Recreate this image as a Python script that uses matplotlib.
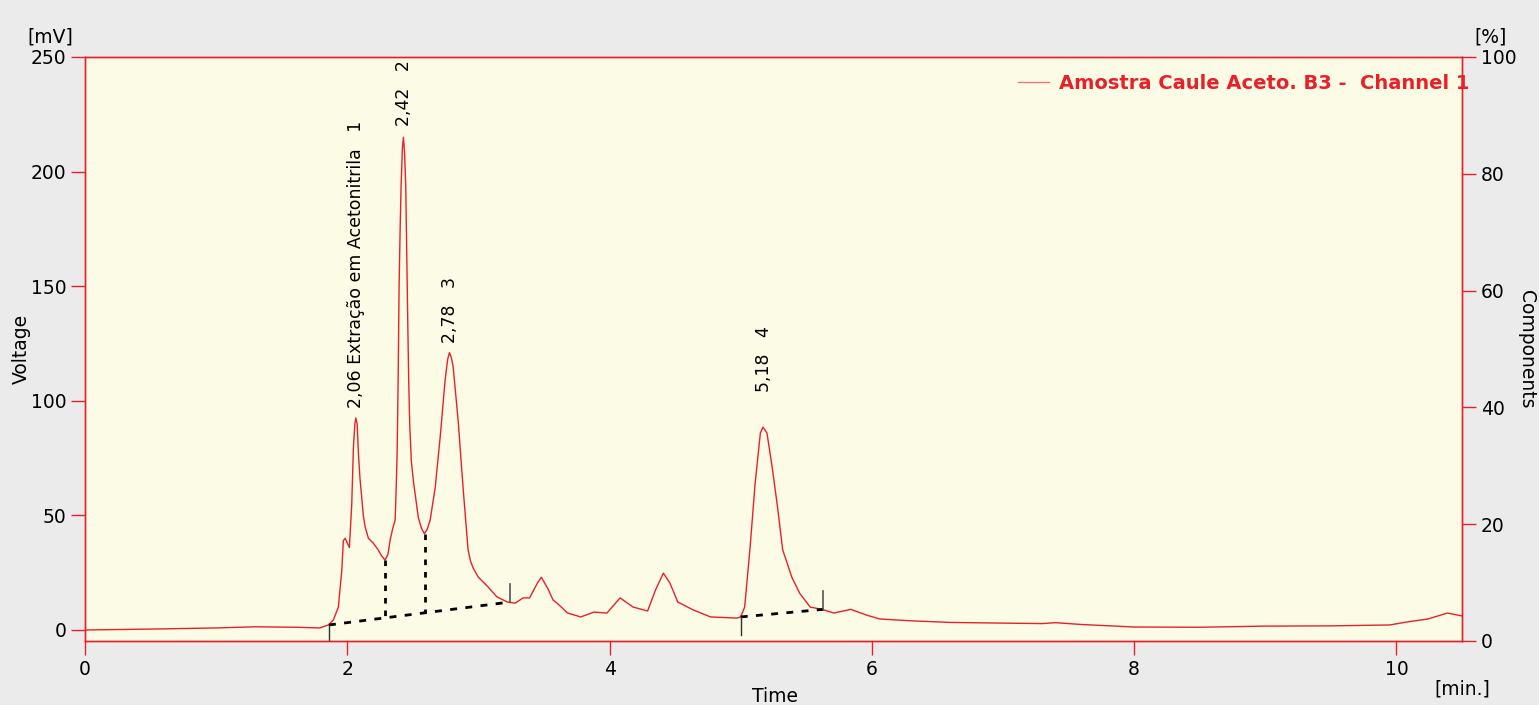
import matplotlib
matplotlib.use('Agg')
import matplotlib.pyplot as plt

# chromatogram trace (time in min, signal in mV)
time_min = [0.0, 0.5, 1.0, 1.3, 1.6, 1.79, 1.856, 1.894, 1.932, 1.958, 1.97, 1.983,
            2.0, 2.016, 2.034, 2.047, 2.058, 2.065, 2.075, 2.085, 2.097, 2.11, 2.122,
            2.136, 2.161, 2.197, 2.235, 2.26, 2.288, 2.31, 2.326, 2.345, 2.365, 2.372,
            2.38, 2.388, 2.395, 2.403, 2.41, 2.42, 2.428, 2.437, 2.446, 2.454, 2.461,
            2.468, 2.476, 2.488, 2.504, 2.542, 2.565, 2.588, 2.61, 2.632, 2.67, 2.708,
            2.746, 2.765, 2.779, 2.793, 2.807, 2.845, 2.883, 2.921, 2.94, 2.96, 3.0,
            3.07, 3.14, 3.22, 3.28, 3.34, 3.39, 3.45, 3.48, 3.53, 3.57, 3.6, 3.68,
            3.78, 3.88, 3.98, 4.08, 4.18, 4.29, 4.35, 4.41, 4.46, 4.52, 4.64, 4.77,
            4.97, 5.0, 5.03, 5.07, 5.11, 5.15, 5.17, 5.2, 5.24, 5.28, 5.32, 5.39,
            5.45, 5.53, 5.62, 5.71, 5.84, 5.96, 6.06, 6.3, 6.6, 7.0, 7.3, 7.4, 7.6,
            8.0, 8.5, 9.0, 9.5, 9.95, 10.08, 10.24, 10.39, 10.5]
signal_mv = [0.0, 0.4, 0.9, 1.4, 1.2, 0.9, 2.2, 4.4, 10.0, 26.0, 39.0, 40.0,
             38.0, 36.0, 55.0, 80.0, 90.0, 92.5, 90.0, 77.0, 66.0, 58.0, 50.0,
             45.0, 40.0, 38.0, 35.0, 32.5, 30.5, 33.0, 39.0, 44.0, 48.0, 60.0,
             77.0, 110.0, 150.0, 175.0, 193.0, 210.0, 215.0, 208.0, 193.0, 162.0, 135.0,
             110.0, 90.0, 74.0, 65.0, 49.0, 44.5, 42.0, 44.0, 48.0, 62.0, 84.0,
             109.0, 118.0, 121.0, 119.0, 115.0, 91.6, 62.0, 35.0, 30.0, 27.0, 23.0,
             19.0, 14.5, 12.2, 11.7, 14.0, 14.0, 20.5, 23.0, 18.0, 13.0, 11.7, 7.4,
             5.7, 7.8, 7.4, 14.0, 10.0, 8.3, 17.4, 24.8, 20.5, 12.2, 8.7, 5.7,
             5.2, 5.7, 10.0, 35.0, 64.0, 86.0, 88.5, 86.0, 71.0, 54.0, 35.0, 23.0,
             16.0, 10.0, 9.0, 7.4, 9.0, 6.5, 4.8, 4.0, 3.3, 3.0, 2.8, 3.2, 2.4,
             1.3, 1.2, 1.7, 1.8, 2.2, 3.5, 4.8, 7.4, 6.1]

# peak annotations
peak_labels = ['2,06 Extração em Acetonitrila   1', '2,42   2', '2,78   3', '5,18   4']
peak_label_x = [2.067, 2.433, 2.784, 5.18]
peak_label_y = [96.8, 220.0, 125.0, 104.0]

# integration baselines (start/end time and level)
base_t0 = [1.86, 5.0]
base_y0 = [2.2, 5.7]
base_t1 = [3.24, 5.63]
base_y1 = [12.2, 9.0]
# drop lines between peaks 1/2 and 2/3
drop_t = [2.29, 2.59]
drop_top = [30.5, 42.0]
drop_foot = [5.3, 7.5]

red = '#e8202a'
W, H = 1539, 705
fig = plt.figure(figsize=(W / 100, H / 100), dpi=100, facecolor='#ebebeb')
ax = fig.add_axes([85 / W, 1 - 641 / H, (1462 - 85) / W, (641 - 57) / H])
ax.set_facecolor('#fcfbe6')

ax.plot(time_min, signal_mv, color=red, lw=1.0, label='Amostra Caule Aceto. B3 -  Channel 1')

for x0, y0, x1, y1 in zip(base_t0, base_y0, base_t1, base_y1):
    ax.plot([x0, x1], [y0, y1], color='black', lw=2, ls=(0, (2.5, 3)))
    ax.plot([x0, x0], [y0, y0 - 8], color='#333333', lw=1)
    ax.plot([x1, x1], [y1, y1 + 8], color='#555555', lw=1.2)
for t, top, foot in zip(drop_t, drop_top, drop_foot):
    ax.plot([t, t], [top, foot], color='black', lw=2, ls=(0, (2, 2.5)))

for txt, x, y in zip(peak_labels, peak_label_x, peak_label_y):
    ax.text(x, y, txt, rotation=90, ha='center', va='bottom', fontsize=12.5,
            color='black', clip_on=False)

ax.set_xlim(0, 10.5)
ax.set_ylim(-4.8, 250)
ax.set_xticks([0, 2, 4, 6, 8, 10])
ax.set_yticks([0, 50, 100, 150, 200, 250])

ax2 = ax.twinx()
ax2.set_ylim(0, 100)
ax2.set_yticks([0, 20, 40, 60, 80, 100])

for a in (ax, ax2):
    for s in a.spines.values():
        s.set_color(red)
        s.set_linewidth(1.0)
    a.tick_params(colors=red, labelcolor='black', length=10, width=1,
                  labelsize=13.5, direction='out')

leg = ax.legend(loc='upper left', bbox_to_anchor=((1018 - 85) / 1377, 1 - 17 / 584),
                frameon=False, borderaxespad=0, borderpad=0, handlelength=1.6,
                handletextpad=0.5, prop={'weight': 'bold', 'size': 14})
for t in leg.get_texts():
    t.set_color(red)
leg.get_lines()[0].set_alpha(0.6)

fig.text(73 / W, 1 - 37 / H, '[mV]', ha='right', va='center', fontsize=13.5)
fig.text(1474 / W, 1 - 37 / H, '[%]', ha='left', va='center', fontsize=13.5)
fig.text(1462 / W, 1 - 689 / H, '[min.]', ha='center', va='center', fontsize=13.5)
fig.text(775 / W, 1 - 697 / H, 'Time', ha='center', va='center', fontsize=13.5)
fig.text(21 / W, 1 - 349 / H, 'Voltage', ha='center', va='center', rotation=90, fontsize=13.5)
fig.text(1526 / W, 1 - 349 / H, 'Components', ha='center', va='center', rotation=270,
         fontsize=13.5)

fig.savefig('out.png', dpi=100, facecolor=fig.get_facecolor())
